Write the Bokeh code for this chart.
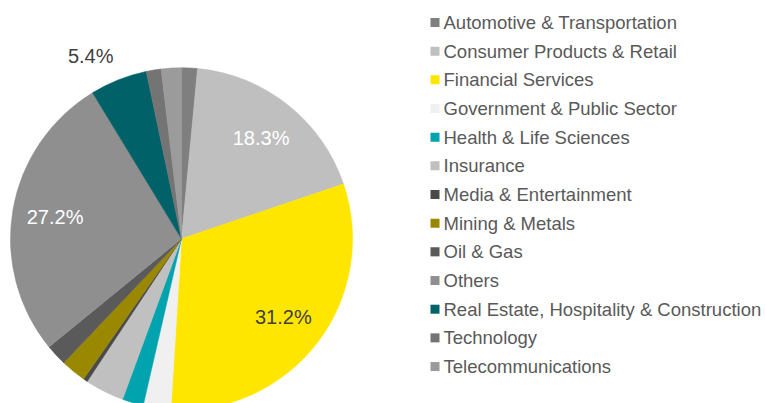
import numpy as np
from bokeh.plotting import figure
from bokeh.models import ColumnDataSource, Range1d
from bokeh.embed import file_html
from bokeh.resources import INLINE
from bokeh.core.properties import value

# ---- data ----
sectors = [
    "Automotive & Transportation",
    "Consumer Products & Retail",
    "Financial Services",
    "Government & Public Sector",
    "Health & Life Sciences",
    "Insurance",
    "Media & Entertainment",
    "Mining & Metals",
    "Oil & Gas",
    "Others",
    "Real Estate, Hospitality & Construction",
    "Technology",
    "Telecommunications",
]
shares = [1.5, 18.3, 31.2, 2.6, 2.0, 3.7, 0.4, 2.4, 2.0, 27.2, 5.4, 1.4, 1.9]

# ---- styles ----
palette = ["#7f7f7f", "#bfbfbf", "#ffe600", "#f0f0f0", "#00a3ae", "#c0c0c0",
           "#4a4a4a", "#998800", "#5a5a5a", "#8f8f8f", "#006268", "#747474", "#9b9b9b"]
label_colors = ["#404040", "#ffffff", "#404040", "#404040", "#404040", "#404040",
                "#ffffff", "#ffffff", "#ffffff", "#ffffff", "#ffffff", "#ffffff", "#404040"]
FONT = "Liberation Sans"

W, H = 765, 403
PAGE_H = 403
p = figure(width=W, height=H,
           x_range=Range1d(0, W), y_range=Range1d(PAGE_H - H, PAGE_H),
           output_backend="svg", toolbar_location=None, min_border=0,
           x_axis_type=None, y_axis_type=None)
p.grid.visible = False
p.outline_line_color = None
p.background_fill_color = "white"
p.border_fill_color = "white"

# ---- pie ----
cx, cy, R = 181.0, PAGE_H - 238.3, 171.0
frac = np.array(shares) / np.sum(shares)
cum = np.cumsum(frac)
beg = cum - frac
src = ColumnDataSource(dict(
    sector=sectors, share=shares, color=palette,
    start=np.pi / 2 - 2 * np.pi * cum,
    end=np.pi / 2 - 2 * np.pi * beg,
))
p.wedge(x=cx, y=cy, radius=R, start_angle="start", end_angle="end",
        direction="anticlock", fill_color="color", line_color="color",
        line_width=0.6, source=src)

# ---- data labels (only slices >= 5%) ----
inside = dict(x=[], y=[], t=[], c=[])
outside = dict(x=[], y=[], t=[], c=[])
for s, b, f, lc in zip(shares, beg, frac, label_colors):
    if s < 5:
        continue
    mid = 2 * np.pi * (b + f / 2)  # clockwise from 12 o'clock
    if s >= 10:
        r = 0.75 * R
        inside["x"].append(cx + r * np.sin(mid))
        inside["y"].append(cy + r * np.cos(mid))
        inside["t"].append(f"{s:.1f}%")
        inside["c"].append(lc)
    else:
        r = 1.08 * R
        outside["x"].append(cx + r * np.sin(mid))
        outside["y"].append(cy + r * np.cos(mid))
        outside["t"].append(f"{s:.1f}%")
        outside["c"].append("#404040")

p.text(x="x", y="y", text="t", text_color="c", source=ColumnDataSource(inside),
       text_font=value(FONT), text_font_size="20px",
       text_align="center", text_baseline="middle")
p.text(x="x", y="y", text="t", text_color="c", source=ColumnDataSource(outside),
       text_font=value(FONT), text_font_size="20px",
       text_align="right", text_baseline="bottom")

# ---- legend ----
row0, step = 22.0, 28.67
ly = [PAGE_H - (row0 + step * i) for i in range(len(sectors))]
leg = ColumnDataSource(dict(y=ly, name=sectors, color=palette))
p.rect(x=434.5, y="y", width=9, height=9, fill_color="color", line_color=None, source=leg)
p.text(x=443, y="y", text="name", source=leg, text_color="#595959",
       text_font=value(FONT), text_font_size="18.5px",
       text_align="left", text_baseline="middle")

open("out.html", "w").write(file_html(p, INLINE))
